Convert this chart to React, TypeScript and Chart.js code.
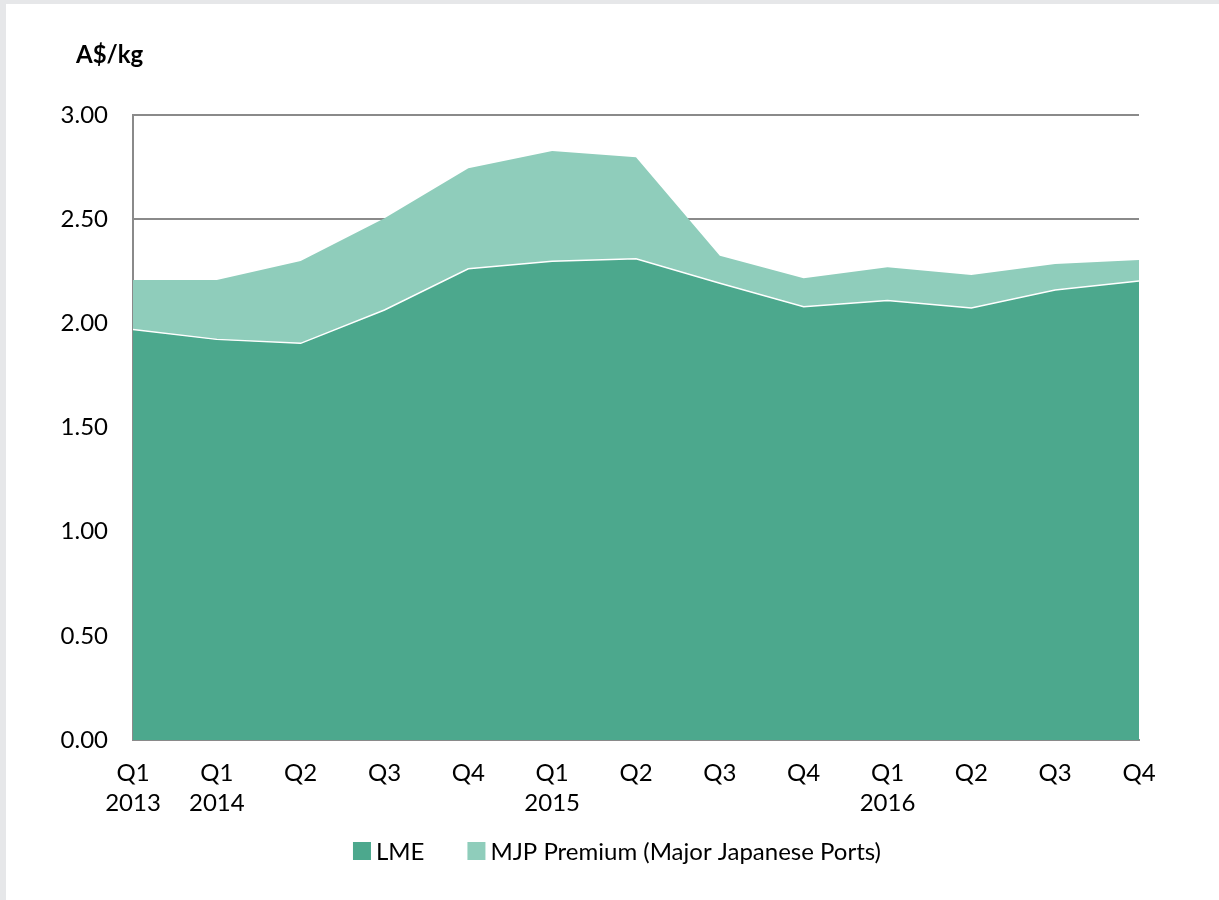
import React, { useEffect, useRef } from "react";
import { Chart, registerables } from "chart.js";

Chart.register(...registerables);

const categories: (string | string[])[] = [
  ["Q1", "2013"], ["Q1", "2014"], "Q2", "Q3", "Q4",
  ["Q1", "2015"], "Q2", "Q3", "Q4",
  ["Q1", "2016"], "Q2", "Q3", "Q4",
];
const lmeValues = [1.97, 1.923, 1.904, 2.064, 2.262, 2.298, 2.31, 2.192, 2.08, 2.11, 2.074, 2.16, 2.203];
const mjpPremiumValues = [0.238, 0.285, 0.395, 0.441, 0.483, 0.529, 0.487, 0.133, 0.136, 0.159, 0.158, 0.125, 0.101];
const seriesNames = ["LME", "MJP Premium (Major Japanese Ports)"];
const unitLabel = "A$/kg";

const FONT = "Lato, 'Open Sans', sans-serif";
const FS = 24;

export default function App() {
  const ref = useRef<HTMLCanvasElement | null>(null);

  useEffect(() => {
    document.body.style.margin = "0";
    const canvas = ref.current;
    if (!canvas) return;
    const unitPlugin = {
      id: "unitLabel",
      afterDraw(chart: any) {
        const ctx = chart.ctx;
        ctx.save();
        ctx.font = `bold ${FS}px ${FONT}`;
        ctx.fillStyle = "#000";
        ctx.textAlign = "left";
        ctx.textBaseline = "middle";
        ctx.fillText(unitLabel, chart.chartArea.left - 57, 55);
        ctx.restore();
      },
    };
    const legendPlugin = {
      id: "customLegend",
      afterDraw(chart: any) {
        const ctx = chart.ctx;
        ctx.save();
        ctx.font = `${FS}px ${FONT}`;
        ctx.textBaseline = "middle";
        ctx.textAlign = "left";
        const box = 18;
        const gap = 5;
        const itemGap = 43;
        const ds = chart.data.datasets;
        const widths = ds.map((d: any) => box + gap + ctx.measureText(d.label).width);
        const total = widths.reduce((a: number, b: number) => a + b, 0) + itemGap * (ds.length - 1);
        let x = 617 - total / 2;
        const y = 851;
        ds.forEach((d: any, i: number) => {
          ctx.fillStyle = d.backgroundColor;
          ctx.fillRect(x, y - box / 2, box, box);
          ctx.fillStyle = "#000";
          ctx.fillText(d.label, x + box + gap, y + 1);
          x += widths[i] + itemGap;
        });
        ctx.restore();
      },
    };
    const chart = new Chart(canvas, {
      type: "line",
      data: {
        labels: categories,
        datasets: [
          {
            label: seriesNames[0],
            data: lmeValues,
            backgroundColor: "#4ca88d",
            borderColor: "#ffffff",
            borderWidth: 1.5,
            pointRadius: 0,
            fill: "origin",
            tension: 0,
          },
          {
            label: seriesNames[1],
            data: mjpPremiumValues,
            backgroundColor: "#8fcdbb",
            borderColor: "#8fcdbb",
            borderWidth: 0,
            pointRadius: 0,
            fill: "-1",
            tension: 0,
          },
        ],
      },
      options: {
        responsive: false,
        animation: false,
        layout: { padding: { top: 115, right: 80, bottom: 70, left: 0 } },
        plugins: {
          legend: { display: false },
          tooltip: { enabled: false },
          title: { display: false },
        },
        scales: {
          x: {
            offset: false,
            grid: { display: false, drawTicks: false },
            border: { display: true, color: "#8a8a8a", width: 2 },
            ticks: {
              font: { family: FONT, size: FS, lineHeight: 1.25 },
              color: "#000",
              maxRotation: 0,
              autoSkip: false,
              padding: 18,
            },
            afterFit(scale: any) {
              scale.height = 90;
            },
          },
          y: {
            stacked: true,
            min: 0,
            max: 3,
            grid: { color: "#8a8a8a", lineWidth: 2, drawTicks: false },
            border: { display: true, color: "#8a8a8a", width: 2 },
            ticks: {
              stepSize: 0.5,
              font: { family: FONT, size: FS },
              color: "#000",
              padding: 25,
              callback: (v: any) => Number(v).toFixed(2),
            },
            afterFit(scale: any) {
              scale.width = 133;
            },
          },
        },
      },
      plugins: [unitPlugin, legendPlugin],
    });
    return () => chart.destroy();
  }, []);

  return (
    <div style={{ position: "relative", width: 1219, height: 900, background: "#e6e7e9" }}>
      <div style={{ position: "absolute", left: 6, top: 4, right: 0, bottom: 0, background: "#ffffff" }} />
      <canvas ref={ref} width={1219} height={900} style={{ position: "absolute", left: 0, top: 0, display: "block" }} />
    </div>
  );
}
